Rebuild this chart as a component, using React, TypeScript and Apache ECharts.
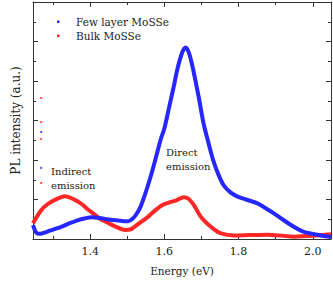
import { useEffect, useRef } from "react";
import * as echarts from "echarts";

const fewLayerEnergy = [1.246, 1.255, 1.265, 1.28, 1.3, 1.322, 1.345, 1.368, 1.385, 1.404, 1.42, 1.44, 1.46, 1.476, 1.49, 1.503, 1.515, 1.524, 1.535, 1.549, 1.562, 1.576, 1.59, 1.6, 1.612, 1.625, 1.635, 1.648, 1.657, 1.666, 1.676, 1.694, 1.705, 1.717, 1.733, 1.748, 1.76, 1.778, 1.796, 1.82, 1.851, 1.873, 1.895, 1.918, 1.94, 1.96, 1.976, 2.0, 2.022, 2.049];
const fewLayerPL = [0.35, 0.16, 0.13, 0.17, 0.24, 0.31, 0.4, 0.48, 0.52, 0.55, 0.54, 0.51, 0.48, 0.47, 0.45, 0.45, 0.52, 0.62, 0.8, 1.16, 1.55, 2.02, 2.52, 2.8, 3.3, 3.85, 4.3, 4.72, 4.85, 4.72, 4.36, 3.52, 2.95, 2.5, 1.95, 1.58, 1.36, 1.18, 1.08, 1.0, 0.9, 0.78, 0.65, 0.5, 0.36, 0.25, 0.18, 0.13, 0.09, 0.05];

const bulkEnergy = [1.246, 1.268, 1.285, 1.305, 1.332, 1.359, 1.378, 1.395, 1.413, 1.43, 1.45, 1.467, 1.494, 1.508, 1.521, 1.54, 1.558, 1.576, 1.595, 1.612, 1.632, 1.652, 1.665, 1.68, 1.697, 1.712, 1.729, 1.751, 1.787, 1.83, 1.878, 1.92, 1.95, 2.0, 2.049];
const bulkPL = [0.4, 0.73, 0.88, 0.99, 1.08, 0.99, 0.88, 0.74, 0.61, 0.49, 0.4, 0.32, 0.23, 0.24, 0.32, 0.45, 0.58, 0.73, 0.86, 0.92, 0.98, 1.06, 1.02, 0.85, 0.58, 0.42, 0.28, 0.15, 0.09, 0.1, 0.11, 0.08, 0.06, 0.08, 0.12];

const fewSpikeEnergy = [1.268, 1.268];
const fewSpikePL = [2.71, 1.8];
const bulkSpikeEnergy = [1.268, 1.268, 1.268, 1.268];
const bulkSpikePL = [3.57, 2.96, 2.53, 1.42];

const majorTicksX = [1.4, 1.6, 1.8, 2.0];
const minorTicksX = [1.3, 1.5, 1.7, 1.9];
const seriesNames = ["Few layer MoSSe", "Bulk MoSSe"];

const BLUE = "#2626ff";
const RED = "#ff2626";
const FONT = "'DejaVu Serif', serif";
const AX = "#333";

const pairs = (xs: number[], ys: number[]) => xs.map((x, i) => [x, ys[i]]);

export default function App() {
  const ref = useRef<HTMLDivElement>(null);
  useEffect(() => {
    if (!ref.current) return;
    const chart = echarts.init(ref.current, null, { renderer: "svg" });
    const xBase = { type: "value", min: 1.246, max: 2.049, gridIndex: 0, splitLine: { show: false } };
    const tick = (vals: number[], len: number) => ({ show: true, inside: true, length: len, customValues: vals, lineStyle: { color: AX } });
    chart.setOption({
      animation: false,
      grid: { left: 33, right: 2, top: 2, bottom: 42 },
      legend: {
        orient: "vertical",
        left: 52,
        top: 11,
        itemWidth: 14,
        itemHeight: 3,
        itemGap: 3,
        icon: "path://M0 0.5h2.5v2.5h-2.5zM14 0L14 3",
        itemStyle: { borderWidth: 0 },
        data: seriesNames,
        textStyle: { fontFamily: FONT, fontSize: 10.5, color: "#222" },
      },
      xAxis: [
        {
          ...xBase,
          position: "bottom",
          name: "Energy (eV)",
          nameLocation: "middle",
          nameGap: 26,
          nameTextStyle: { fontFamily: FONT, fontSize: 10.5, color: "#222" },
          axisLine: { show: true, lineStyle: { color: AX } },
          axisTick: tick(majorTicksX, 5),
          axisLabel: {
            show: true,
            customValues: majorTicksX,
            margin: 7,
            fontFamily: FONT,
            fontSize: 11,
            color: "#222",
            formatter: (v: number) => v.toFixed(1),
          },
        },
        { ...xBase, position: "bottom", axisLine: { show: false }, axisTick: tick(minorTicksX, 3), axisLabel: { show: false } },
        { ...xBase, position: "top", axisLine: { show: true, lineStyle: { color: AX } }, axisTick: tick(majorTicksX, 5), axisLabel: { show: false } },
        { ...xBase, position: "top", axisLine: { show: false }, axisTick: tick(minorTicksX, 3), axisLabel: { show: false } },
      ],
      yAxis: [
        {
          type: "value",
          position: "left",
          min: 0,
          max: 6,
          interval: 1,
          name: "PL intensity (a.u.)",
          nameLocation: "middle",
          nameGap: 11,
          nameTextStyle: { fontFamily: FONT, fontSize: 12, color: "#222" },
          axisLine: { show: true, lineStyle: { color: AX } },
          axisTick: { show: true, inside: true, length: 5, lineStyle: { color: AX } },
          minorTick: { show: true, splitNumber: 2, length: 3, lineStyle: { color: AX } },
          axisLabel: { show: false },
          splitLine: { show: false },
        },
        {
          type: "value",
          position: "right",
          min: 0,
          max: 6,
          interval: 1,
          axisLine: { show: true, lineStyle: { color: AX } },
          axisTick: { show: true, inside: true, length: 5, lineStyle: { color: AX } },
          minorTick: { show: true, splitNumber: 2, length: 3, lineStyle: { color: AX } },
          axisLabel: { show: false },
          splitLine: { show: false },
        },
      ],
      series: [
        {
          name: seriesNames[1],
          type: "line",
          xAxisIndex: 0,
          yAxisIndex: 0,
          data: pairs(bulkEnergy, bulkPL),
          smooth: 0.3,
          showSymbol: false,
          symbol: "none",
          color: RED,
          lineStyle: { color: RED, width: 4 },
          z: 2,
        },
        {
          name: seriesNames[0],
          type: "line",
          xAxisIndex: 0,
          yAxisIndex: 0,
          data: pairs(fewLayerEnergy, fewLayerPL),
          smooth: 0.3,
          showSymbol: false,
          symbol: "none",
          color: BLUE,
          lineStyle: { color: BLUE, width: 4 },
          z: 3,
        },
        {
          name: "bulk-spikes",
          type: "scatter",
          data: pairs(bulkSpikeEnergy, bulkSpikePL),
          symbol: "rect",
          symbolSize: 2,
          itemStyle: { color: RED },
        },
        {
          name: "few-spikes",
          type: "scatter",
          data: pairs(fewSpikeEnergy, fewSpikePL),
          symbol: "rect",
          symbolSize: 2,
          itemStyle: { color: BLUE },
        },
      ],
      graphic: [
        {
          type: "text",
          left: 51,
          top: 164,
          style: { text: "Indirect\nemission", font: `10px ${FONT}`, fill: "#222", lineHeight: 14 },
        },
        {
          type: "text",
          left: 166,
          top: 145,
          style: { text: "Direct\nemission", font: `10px ${FONT}`, fill: "#222", lineHeight: 14 },
        },
      ],
    });
    return () => chart.dispose();
  }, []);
  return <div ref={ref} style={{ width: 333, height: 281, position: "absolute", left: 0, top: 0 }} />;
}
